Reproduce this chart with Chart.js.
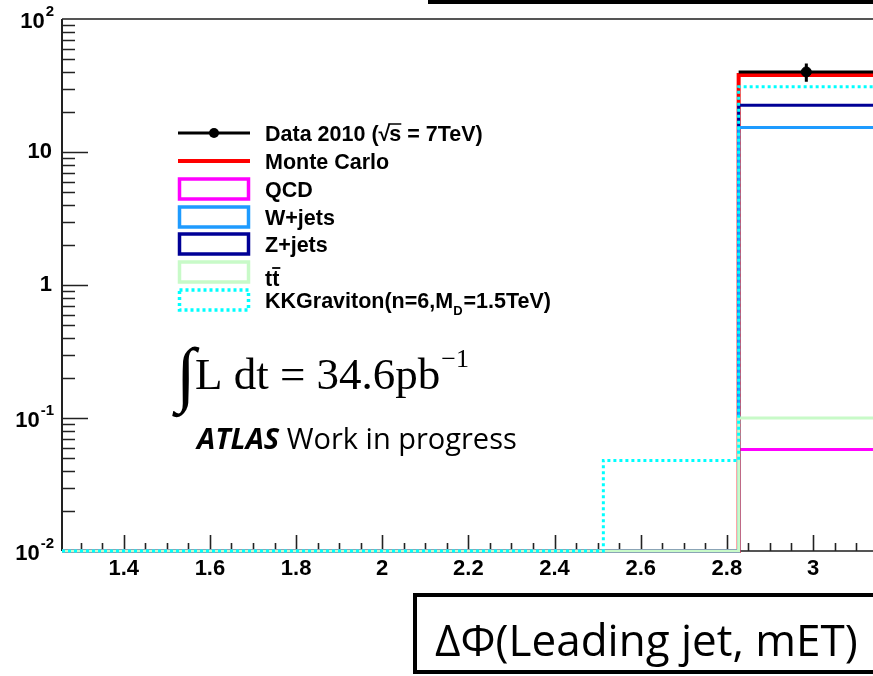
<!DOCTYPE html>
<html>
<head>
<meta charset="utf-8">
<script src="https://cdn.jsdelivr.net/npm/chart.js@4.4.1/dist/chart.umd.min.js"></script>
<style>
  html, body { margin: 0; padding: 0; overflow: hidden; background: #fff; }
  canvas { display: block; }
</style>
</head>
<body>
<canvas id="c" width="880" height="676"></canvas>
<script>
// Bin edges of the ΔΦ histogram (multiples of π/10) and per-bin contents
const binEdges   = [1.2566, 1.5708, 1.8850, 2.1991, 2.5133, 2.8274, 3.1416];
const dataCounts = [0, 0, 0, 0, 0, 40];
const monteCarlo = [0, 0, 0, 0, 0, 38];
const qcd        = [0, 0, 0, 0, 0, 0.058];
const wJets      = [0, 0, 0, 0, 0, 15.3];
const zJets      = [0, 0, 0, 0, 0, 22.5];
const ttbar      = [0, 0, 0, 0, 0, 0.1];
const kkGraviton = [0, 0, 0, 0, 0.048, 31];

// Axis ticks
const xTickValues = [1.4, 1.6, 1.8, 2.0, 2.2, 2.4, 2.6, 2.8, 3.0];
const xTickLabels = ['1.4', '1.6', '1.8', '2', '2.2', '2.4', '2.6', '2.8', '3'];
const yTickValues = [0.01, 0.1, 1, 10, 100];
const yTickBase   = ['10', '10', '1', '10', '10'];
const yTickExp    = ['-2', '-1', '', '', '2'];

const Y_MIN = 0.01, Y_MAX = 100;
const X_MIN = binEdges[0], X_MAX = binEdges[binEdges.length - 1];

// Step outline of a histogram; empty bins sit on the axis floor.
// Each point carries the content of the bin that ends at it.
function histPoints(vals) {
  const pts = [{ x: X_MIN, y: Math.max(vals[0], Y_MIN) }];
  vals.forEach((v, i) => pts.push({ x: binEdges[i + 1], y: Math.max(v, Y_MIN) }));
  return pts;
}
function histDataset(label, vals, color, width, order, dash) {
  return {
    label, data: histPoints(vals), borderColor: color, borderWidth: width,
    borderDash: dash || [], stepped: 'after', pointRadius: 0, fill: false,
    order, clip: false, borderCapStyle: 'butt', borderJoinStyle: 'miter'
  };
}

const COLORS = {
  data: '#000000', mc: '#ff0000', qcd: '#ff00ff', w: '#1e9bff',
  z: '#000096', tt: '#c8fac8', kk: '#00ffff'
};

const dataPoints = [];
dataCounts.forEach((n, i) => {
  if (n > 0) dataPoints.push({ x: (binEdges[i] + binEdges[i + 1]) / 2, y: n, i });
});

const datasets = [
  {
    label: 'Data 2010', type: 'scatter', data: dataPoints, showLine: false,
    pointRadius: 5, pointBackgroundColor: COLORS.data, pointBorderColor: COLORS.data,
    order: 0, clip: false
  },
  histDataset('KKGraviton', kkGraviton, COLORS.kk, 3, 1, [3, 3]),
  histDataset('ttbar', ttbar, COLORS.tt, 3, 2),
  histDataset('W+jets', wJets, COLORS.w, 3, 3),
  histDataset('Z+jets', zJets, COLORS.z, 3, 4),
  histDataset('Monte Carlo', monteCarlo, COLORS.mc, 4, 5),
  histDataset('QCD', qcd, COLORS.qcd, 3, 6)
];

// Legend rows
const legendEntries = [
  { kind: 'marker', color: COLORS.data, text: 'data' },
  { kind: 'line', color: COLORS.mc, text: 'Monte Carlo' },
  { kind: 'box', color: COLORS.qcd, text: 'QCD' },
  { kind: 'box', color: COLORS.w, text: 'W+jets' },
  { kind: 'box', color: COLORS.z, text: 'Z+jets' },
  { kind: 'box', color: COLORS.tt, text: 'tt' },
  { kind: 'dotbox', color: COLORS.kk, text: 'kk' }
];

const LBL_FONT = 'bold 22px "Liberation Sans", Arial, sans-serif';
const EXP_FONT = 'bold 15px "Liberation Sans", Arial, sans-serif';
const LEG_FONT = 'bold 21.5px "Liberation Sans", Arial, sans-serif';

function drawAxes(chart) {
  const ctx = chart.ctx, a = chart.chartArea;
  const xs = chart.scales.x, ys = chart.scales.y;
  ctx.save();
  // frame
  ctx.strokeStyle = '#555';
  ctx.lineWidth = 2;
  ctx.beginPath();
  ctx.moveTo(a.left, a.top); ctx.lineTo(a.right, a.top);
  ctx.moveTo(a.left, a.bottom); ctx.lineTo(a.right, a.bottom);
  ctx.stroke();
  ctx.strokeStyle = '#222';
  ctx.beginPath();
  ctx.moveTo(a.left, a.top); ctx.lineTo(a.left, a.bottom);
  ctx.stroke();

  // y ticks: decades and 2..9 subdivisions
  ctx.lineWidth = 1.6;
  ctx.beginPath();
  for (let e = -2; e < 2; e++) {
    for (let m = 1; m <= 9; m++) {
      const v = m * Math.pow(10, e);
      const py = Math.round(ys.getPixelForValue(v)) + 0.5;
      const len = m === 1 ? 26 : 13;
      ctx.moveTo(a.left, py); ctx.lineTo(a.left + len, py);
    }
  }
  // x ticks: majors every 0.2, minors every 0.05
  for (let k = 26; k <= 62; k++) {
    const v = k * 0.05;
    if (v < X_MIN || v > X_MAX) continue;
    const px = Math.round(xs.getPixelForValue(v)) + 0.5;
    const major = k % 4 === 0;
    ctx.moveTo(px, a.bottom); ctx.lineTo(px, a.bottom - (major ? 16 : 8));
  }
  ctx.stroke();
  ctx.restore();
}

function drawTickLabels(chart) {
  const ctx = chart.ctx, a = chart.chartArea;
  const xs = chart.scales.x, ys = chart.scales.y;
  ctx.save();
  ctx.fillStyle = '#000';
  ctx.font = LBL_FONT;
  ctx.textAlign = 'center';
  ctx.textBaseline = 'middle';
  xTickValues.forEach((v, i) => {
    ctx.fillText(xTickLabels[i], xs.getPixelForValue(v), a.bottom + 18);
  });
  const right = 54;
  yTickValues.forEach((v, i) => {
    const py = ys.getPixelForValue(v);
    const base = yTickBase[i], ex = yTickExp[i];
    ctx.textAlign = 'left';
    ctx.font = EXP_FONT;
    const ew = ex ? ctx.measureText(ex).width : 0;
    ctx.font = LBL_FONT;
    const bw = ctx.measureText(base).width;
    const x0 = right - ew - bw - (ex ? 1 : 2);
    const by = ex ? py + 3 : py;
    ctx.fillText(base, x0, by);
    if (ex) {
      ctx.font = EXP_FONT;
      ctx.fillText(ex, x0 + bw + 1, by - 10);
    }
  });
  ctx.restore();
}

function drawErrorBars(chart) {
  const ctx = chart.ctx, xs = chart.scales.x, ys = chart.scales.y;
  ctx.save();
  ctx.strokeStyle = COLORS.data;
  ctx.lineWidth = 3;
  dataPoints.forEach(p => {
    const py = ys.getPixelForValue(p.y);
    const err = Math.sqrt(p.y);
    ctx.beginPath();
    ctx.moveTo(xs.getPixelForValue(binEdges[p.i]), py);
    ctx.lineTo(xs.getPixelForValue(binEdges[p.i + 1]), py);
    ctx.moveTo(xs.getPixelForValue(p.x), ys.getPixelForValue(p.y + err));
    ctx.lineTo(xs.getPixelForValue(p.x), ys.getPixelForValue(p.y - err));
    ctx.stroke();
  });
  ctx.restore();
}

function drawLegend(chart) {
  const ctx = chart.ctx;
  const x0 = 178, x1 = 250, tx = 265;
  const rows = [133, 161, 189, 217, 244, 272, 300];
  ctx.save();
  legendEntries.forEach((e, i) => {
    const y = rows[i];
    ctx.setLineDash([]);
    if (e.kind === 'marker' || e.kind === 'line') {
      ctx.strokeStyle = e.color;
      ctx.lineWidth = e.kind === 'line' ? 4 : 3;
      ctx.beginPath(); ctx.moveTo(x0, y); ctx.lineTo(x1, y); ctx.stroke();
      if (e.kind === 'marker') {
        ctx.fillStyle = e.color;
        ctx.beginPath(); ctx.arc((x0 + x1) / 2, y, 5, 0, Math.PI * 2); ctx.fill();
      }
    } else {
      ctx.strokeStyle = e.color;
      ctx.lineWidth = 3.5;
      if (e.kind === 'dotbox') ctx.setLineDash([3, 3]);
      ctx.strokeRect(x0 + 1.5, y - 10, x1 - x0 - 3, 20);
    }
    ctx.setLineDash([]);
    ctx.fillStyle = '#000';
    ctx.font = LEG_FONT;
    ctx.textAlign = 'left';
    ctx.textBaseline = 'alphabetic';
    const base = y + 8;
    if (e.text === 'data') {
      let x = tx;
      const a1 = 'Data 2010 (', rad = '\u221A', s = 's', rest = ' = 7TeV)';
      ctx.fillText(a1, x, base); x += ctx.measureText(a1).width;
      ctx.fillText(rad, x, base); x += ctx.measureText(rad).width - 1;
      const sw = ctx.measureText(s).width;
      ctx.fillText(s, x, base);
      ctx.lineWidth = 1.5; ctx.strokeStyle = '#000';
      ctx.beginPath(); ctx.moveTo(x - 1, base - 17); ctx.lineTo(x + sw, base - 17); ctx.stroke();
      x += sw;
      ctx.fillText(rest, x, base);
    } else if (e.text === 'tt') {
      const tb = base + 6;
      const w1 = ctx.measureText('t').width;
      ctx.fillText('tt', tx, tb);
      ctx.lineWidth = 1.8; ctx.strokeStyle = '#000';
      ctx.beginPath(); ctx.moveTo(tx + w1, tb - 18); ctx.lineTo(tx + 2 * w1 + 1, tb - 18); ctx.stroke();
    } else if (e.text === 'kk') {
      let x = tx;
      const p1 = 'KKGraviton(n=6,M', sub = 'D', p2 = '=1.5TeV)';
      ctx.fillText(p1, x, base); x += ctx.measureText(p1).width;
      ctx.font = 'bold 13px "Liberation Sans", Arial, sans-serif';
      ctx.fillText(sub, x, base + 7); x += ctx.measureText(sub).width + 1;
      ctx.font = LEG_FONT;
      ctx.fillText(p2, x, base);
    } else {
      ctx.fillText(e.text, tx, base);
    }
  });
  ctx.restore();
}

function drawAnnotations(chart) {
  const ctx = chart.ctx;
  ctx.save();
  ctx.fillStyle = '#000';
  ctx.textBaseline = 'alphabetic';
  ctx.textAlign = 'left';
  // integrated luminosity
  ctx.font = '72px "Liberation Serif", "Times New Roman", serif';
  ctx.fillText('\u222B', 176, 398);
  ctx.font = '45px "Liberation Serif", "Times New Roman", serif';
  const lum = 'L dt = 34.6pb';
  ctx.fillText(lum, 195, 389);
  const lw = ctx.measureText(lum).width;
  ctx.font = '26px "Liberation Serif", "Times New Roman", serif';
  ctx.fillText('\u22121', 195 + lw + 1, 367);

  // experiment tag
  ctx.font = 'italic bold 29px "Open Sans", Lato, sans-serif';
  ctx.fillText('ATLAS', 197, 449);
  const aw = ctx.measureText('ATLAS').width;
  ctx.font = '29px "Open Sans", Lato, sans-serif';
  ctx.fillText(' Work in progress', 197 + aw, 449);

  // axis caption box
  ctx.strokeStyle = '#000';
  ctx.lineWidth = 4;
  ctx.strokeRect(415, 595, 500, 77);
  ctx.font = '44px "Open Sans", Lato, sans-serif';
  ctx.fillText('\u0394\u03A6(Leading jet, mET)', 435, 656);

  // box edge along the top
  ctx.beginPath();
  ctx.moveTo(430, -20); ctx.lineTo(430, 2); ctx.lineTo(900, 2);
  ctx.stroke();
  ctx.restore();
}

const overlay = {
  id: 'overlay',
  beforeDatasetsDraw(chart) { drawAxes(chart); },
  afterDatasetsDraw(chart) {
    drawErrorBars(chart);
    drawTickLabels(chart);
    drawLegend(chart);
    drawAnnotations(chart);
  }
};

new Chart(document.getElementById('c'), {
  type: 'line',
  data: { datasets },
  options: {
    responsive: false,
    animation: false,
    layout: { padding: { left: 62, top: 19, right: 3, bottom: 125 } },
    plugins: { legend: { display: false }, tooltip: { enabled: false } },
    scales: {
      x: { type: 'linear', min: X_MIN, max: X_MAX, display: false },
      y: { type: 'logarithmic', min: Y_MIN, max: Y_MAX, display: false }
    }
  },
  plugins: [overlay]
});
</script>
</body>
</html>
